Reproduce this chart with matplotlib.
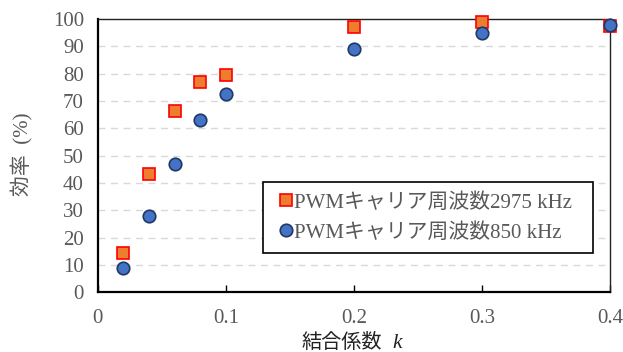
import matplotlib
matplotlib.use("Agg")
import matplotlib.pyplot as plt
from matplotlib.ticker import MultipleLocator

k_values = [0.02, 0.04, 0.06, 0.08, 0.1, 0.2, 0.3, 0.4]
eff_2975 = [14.4, 43.3, 66.5, 76.9, 79.6, 97.0, 98.8, 97.4]
eff_850 = [9.0, 27.8, 47.1, 63.2, 72.4, 88.9, 95.0, 97.7]
label_2975 = "PWMキャリア周波数2975 kHz"
label_850 = "PWMキャリア周波数850 kHz"

fam = ["Liberation Serif", "Noto Sans CJK JP"]
plt.rcParams["font.family"] = fam
gray = "#595959"

fig = plt.figure(figsize=(6.23, 3.52), dpi=100)
ax = fig.add_axes([0.157, 0.170, 0.822, 0.776])

ax.set_xlim(0, 0.4)
ax.set_ylim(0, 100)
ax.yaxis.set_major_locator(MultipleLocator(10))
ax.xaxis.set_major_locator(MultipleLocator(0.1))
ax.xaxis.set_major_formatter(matplotlib.ticker.FuncFormatter(lambda v, p: "0" if abs(v) < 1e-9 else f"{v:.1f}"))

for y in range(10, 100, 10):
    ax.axhline(y, color="#d9d9d9", lw=1.0, ls=(0, (5, 4)), zorder=0)

ax.plot(k_values, eff_2975, ls="none", marker="s", ms=8.3, mfc="#ED7D31", mec="#FF0000",
        mew=1.2, label=label_2975, clip_on=False, zorder=3)
ax.plot(k_values, eff_850, ls="none", marker="o", ms=9, mfc="#4472C4", mec="#1F3864",
        mew=1.2, label=label_850, clip_on=False, zorder=4)

for s in ["left", "bottom"]:
    ax.spines[s].set_linewidth(1.6)
    ax.spines[s].set_color("black")
for s in ["top", "right"]:
    ax.spines[s].set_linewidth(1.0)
    ax.spines[s].set_color("#222222")

ax.tick_params(axis="y", length=0, pad=10, labelsize=15, labelcolor=gray)
ax.tick_params(axis="x", direction="in", length=5, width=1.0, pad=12, labelsize=15, labelcolor=gray)

# x label: Japanese text + italic k
fig.text(382 / 623, 0.012, "結合係数", fontsize=14.5, color="#222222", ha="right", va="baseline")
fig.text(392 / 623, 0.012, "k", fontsize=15.5, color="#222222", style="italic", ha="left", va="baseline",
         family="Liberation Serif")
fig.text(22 / 623, 1 - 154 / 352, "効率  (%)", fontsize=15, color=gray, rotation=90,
         ha="center", va="center")

leg = ax.legend(loc="lower left", bbox_to_anchor=(0.322, 0.143, 0.645, 0.264), mode="expand",
                frameon=True, fancybox=False, edgecolor="black", framealpha=1,
                fontsize=15, handletextpad=-0.2, labelspacing=0.5, borderpad=0.5,
                handlelength=1.2, borderaxespad=0)
leg.get_frame().set_linewidth(1.2)
for t in leg.get_texts():
    t.set_color(gray)

fig.savefig("out.png", dpi=100)
